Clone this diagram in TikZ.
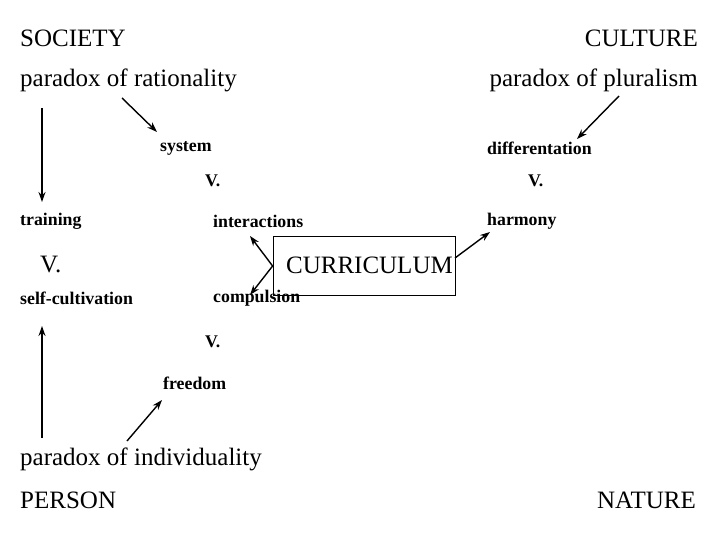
\documentclass[tikz,border=0pt]{standalone}
\usepackage{fontspec}
\setmainfont{Liberation Serif}
\usetikzlibrary{arrows.meta}
\begin{document}
\begin{tikzpicture}[x=1pt,y=-1pt,
 big/.style={inner sep=0pt,font=\fontsize{25}{28}\selectfont},
 sm/.style={inner sep=0pt,font=\fontsize{17.8}{20}\selectfont\bfseries},
 arr/.style={-{Stealth[length=10pt,width=7pt]},line width=1.4pt}]
\useasboundingbox (0,0) rectangle (720,540);
\node[big,anchor=west] (soc) at (20,38) {SOCIETY};
\node[big,anchor=east] (cul) at (698,38) {CULTURE};
\node[big,anchor=west] (pr) at (20,80) {paradox of rationality};
\node[big,anchor=east] (pp) at (698,80) {paradox of pluralism};
\node[sm,anchor=west] (sys) at (160,148) {system};
\node[sm,anchor=west] (dif) at (487,148) {differentation};
\node[sm,anchor=west] (v1) at (205,181) {V.};
\node[sm,anchor=west] (v2) at (528,181) {V.};
\node[sm,anchor=west] (tr) at (20,221) {training};
\node[sm,anchor=west] (int) at (213,221) {interactions};
\node[sm,anchor=west] (har) at (487,221) {harmony};
\node[big,anchor=west] (v3) at (40,265) {V.};
\node[draw,line width=0.8pt,minimum width=182pt,minimum height=59pt,inner sep=0pt] (cur) at (364,266) {};
\node[big,anchor=east] (curt) at (453,265) {CURRICULUM};
\node[sm,anchor=west] (sc) at (20,298) {self-cultivation};
\node[sm,anchor=west] (com) at (213,298) {compulsion};
\node[sm,anchor=west] (v4) at (205,342) {V.};
\node[sm,anchor=west] (fr) at (163,383) {freedom};
\node[big,anchor=west] (pi) at (20,459) {paradox of individuality};
\node[big,anchor=west] (per) at (20,500) {PERSON};
\node[big,anchor=east] (nat) at (696,500) {NATURE};
\coordinate (a1) at (42,108); \coordinate (a2) at (42,202);
\coordinate (b1) at (122,98); \coordinate (b2) at (157,132);
\coordinate (c1) at (619,96); \coordinate (c2) at (577,139);
\coordinate (d1) at (42,438); \coordinate (d2) at (42,326);
\coordinate (e1) at (127,441); \coordinate (e2) at (162,400);
\coordinate (f1) at (250,236); \coordinate (f2) at (250,295);
\coordinate (g0) at (455,258); \coordinate (g1) at (490,232);
\draw[arr] (a1) -- (a2);
\draw[arr] (b1) -- (b2);
\draw[arr] (c1) -- (c2);
\draw[arr] (d1) -- (d2);
\draw[arr] (e1) -- (e2);
\draw[arr] (cur.west) -- (f1);
\draw[arr] (cur.west) -- (f2);
\draw[arr] (g0) -- (g1);
\end{tikzpicture}
\end{document}
